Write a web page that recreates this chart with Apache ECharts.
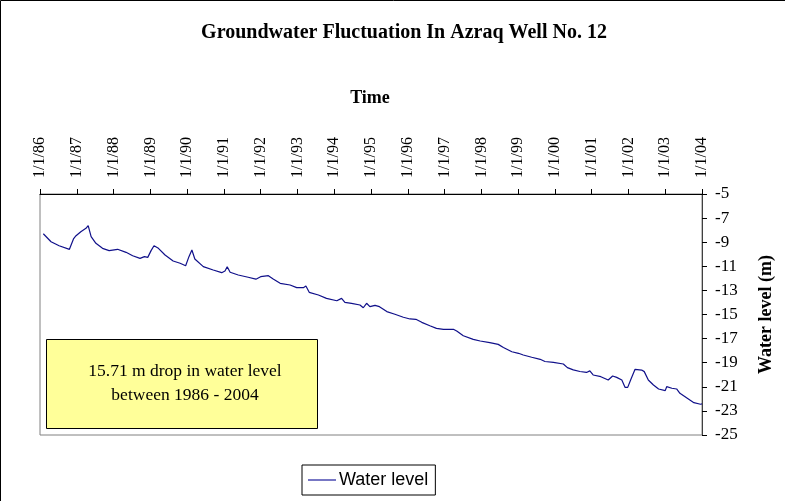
<!DOCTYPE html>
<html>
<head>
<meta charset="utf-8">
<script src="https://cdn.jsdelivr.net/npm/echarts@6/dist/echarts.min.js"></script>
<style>
html,body{margin:0;padding:0;background:#fff;}
#chart{width:785px;height:501px;}
</style>
</head>
<body>
<div id="chart"></div>
<script>
// Time in decimal years
const time = [1986.09,1986.30,1986.52,1986.80,1986.85,1986.91,1986.98,1987.11,1987.25,1987.31,1987.39,1987.52,1987.70,1987.88,1988.11,1988.34,1988.52,1988.72,1988.84,1988.93,1989.02,1989.10,1989.22,1989.40,1989.62,1989.81,1989.96,1990.05,1990.13,1990.21,1990.44,1990.71,1990.94,1991.03,1991.09,1991.17,1991.39,1991.66,1991.87,1992.00,1992.21,1992.34,1992.53,1992.80,1992.98,1993.16,1993.23,1993.32,1993.57,1993.79,1994.07,1994.20,1994.29,1994.47,1994.70,1994.79,1994.88,1994.97,1995.11,1995.23,1995.43,1995.65,1995.88,1996.06,1996.22,1996.38,1996.60,1996.78,1996.97,1997.24,1997.33,1997.51,1997.78,1997.97,1998.23,1998.46,1998.60,1998.83,1999.01,1999.05,1999.14,1999.37,1999.60,1999.64,1999.73,1999.96,2000.23,2000.34,2000.50,2000.68,2000.86,2000.95,2001.04,2001.25,2001.45,2001.57,2001.68,2001.82,2001.91,2001.98,2002.07,2002.18,2002.36,2002.43,2002.54,2002.68,2002.82,2003.00,2003.04,2003.18,2003.31,2003.40,2003.60,2003.78,2003.96,2004.00];
const waterLevel = [-8.30,-8.96,-9.29,-9.59,-9.65,-8.73,-8.46,-8.13,-7.85,-7.63,-8.54,-9.09,-9.51,-9.70,-9.59,-9.84,-10.12,-10.34,-10.20,-10.26,-9.70,-9.29,-9.51,-10.06,-10.56,-10.75,-10.95,-10.20,-9.65,-10.39,-11.03,-11.31,-11.53,-11.39,-11.03,-11.49,-11.72,-11.91,-12.07,-11.86,-11.78,-12.05,-12.41,-12.55,-12.77,-12.77,-12.63,-13.16,-13.38,-13.66,-13.86,-13.66,-13.99,-14.07,-14.21,-14.44,-14.07,-14.35,-14.24,-14.35,-14.76,-14.98,-15.23,-15.37,-15.40,-15.65,-15.93,-16.15,-16.23,-16.23,-16.37,-16.76,-17.06,-17.20,-17.33,-17.48,-17.74,-18.09,-18.22,-18.14,-18.36,-18.55,-18.72,-18.57,-18.90,-18.98,-19.11,-19.41,-19.60,-19.73,-19.81,-19.68,-20.02,-20.16,-20.44,-20.10,-20.22,-20.44,-21.05,-21.05,-20.35,-19.55,-19.61,-19.74,-20.44,-20.85,-21.18,-21.32,-20.99,-21.12,-21.18,-21.54,-21.95,-22.32,-22.45,-22.42];
const yearTicks = [1986,1987,1988,1989,1990,1991,1992,1993,1994,1995,1996,1997,1998,1999,2000,2001,2002,2003,2004];
const tickLabels = ['1/1/86','1/1/87','1/1/88','1/1/89','1/1/90','1/1/91','1/1/92','1/1/93','1/1/94','1/1/95','1/1/96','1/1/97','1/1/98','1/1/99','1/1/00','1/1/01','1/1/02','1/1/03','1/1/04'];
const seriesName = 'Water level';
const chartTitle = 'Groundwater Fluctuation In Azraq Well No. 12';
const xName = 'Time';
const yName = 'Water level (m)';
const noteLines = ['15.71 m drop in water level', 'between 1986 - 2004'];

const serif = '"Liberation Serif","Times New Roman",serif';
const sans = '"Liberation Sans",Arial,sans-serif';

const chart = echarts.init(document.getElementById('chart'), null, {renderer: 'canvas'});
const option = {
  backgroundColor: '#ffffff',
  animation: false,
  grid: {left: 40, top: 194, right: 83, bottom: 66, show: true, borderColor: '#808080', borderWidth: 1, backgroundColor: 'transparent'},
  xAxis: {
    type: 'value', position: 'top', min: 1986, max: 2004, interval: 1,
    axisLine: {show: true, lineStyle: {color: '#000', width: 1}},
    axisTick: {show: true, inside: false, length: 5, lineStyle: {color: '#000'}},
    splitLine: {show: false},
    axisLabel: {
      rotate: -90, margin: 16, color: '#000', fontFamily: serif, fontSize: 16,
      formatter: function (v) { const i = yearTicks.indexOf(Math.round(v)); return i >= 0 ? tickLabels[i] : ''; }
    }
  },
  yAxis: {
    type: 'value', position: 'right', min: -25, max: -5, interval: 2,
    name: yName, nameLocation: 'middle', nameRotate: 90, nameGap: 55,
    nameTextStyle: {fontFamily: serif, fontSize: 18, fontWeight: 'bold', color: '#000'},
    axisLine: {show: true, lineStyle: {color: '#404040', width: 1}},
    axisTick: {show: true, inside: false, length: 5, lineStyle: {color: '#000'}},
    splitLine: {show: false},
    axisLabel: {margin: 13, color: '#000', fontFamily: serif, fontSize: 17}
  },
  legend: {
    show: true, left: 302, top: 465, orient: 'horizontal',
    data: [seriesName],
    icon: 'rect',
    borderColor: '#000', borderWidth: 1, borderRadius: 0, padding: [6, 7, 6, 6],
    itemWidth: 28, itemHeight: 1.5, itemGap: 4,
    textStyle: {fontFamily: sans, fontSize: 18, color: '#000', padding: [0, 0, 0, -2]}
  },
  series: [{
    name: seriesName, type: 'line', symbol: 'none', showSymbol: false,
    lineStyle: {color: '#10108a', width: 1.2},
    itemStyle: {color: '#4a4ab0'},
    data: time.map((t, i) => [t, waterLevel[i]])
  }],
  graphic: [
    {type: 'rect', shape: {x: 0.5, y: 0.5, width: 900, height: 700}, style: {fill: 'none', stroke: '#000', lineWidth: 1}, silent: true, z: -10},
    {type: 'text', x: 404, y: 33, style: {text: chartTitle, font: 'bold 20px ' + serif, fill: '#000', align: 'center', verticalAlign: 'middle'}},
    {type: 'text', x: 370, y: 98, style: {text: xName, font: 'bold 18px ' + serif, fill: '#000', align: 'center', verticalAlign: 'middle'}},
    {type: 'rect', shape: {x: 46.5, y: 339.5, width: 271, height: 89}, style: {fill: '#ffff99', stroke: '#000', lineWidth: 1}, z: 10},
    {type: 'text', x: 185, y: 383, z: 11, style: {text: noteLines.join('\n'), font: '17.5px ' + serif, lineHeight: 24, fill: '#000', align: 'center', verticalAlign: 'middle'}}
  ]
};
chart.setOption(option);
</script>
</body>
</html>
